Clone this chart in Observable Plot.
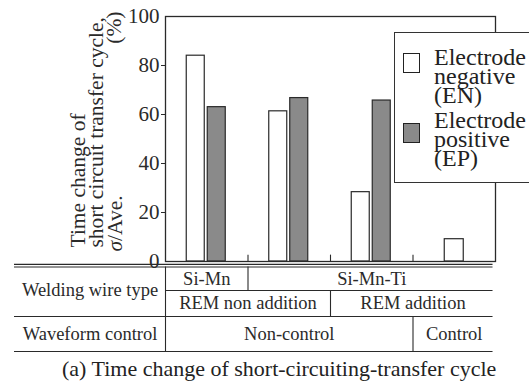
<!DOCTYPE html>
<html><head><meta charset="utf-8">
<script src="https://cdn.jsdelivr.net/npm/d3@7"></script>
<script src="https://cdn.jsdelivr.net/npm/@observablehq/plot@0.6"></script>
<style>
  body { margin: 0; background: #fff; }
  #wrap { position: relative; width: 529px; height: 383px; overflow: hidden; font-family: "Liberation Serif", "Times New Roman", serif; color: #222; }
  #wrap svg { display: block; }
  #wrap svg text { font-family: "Liberation Serif", "Times New Roman", serif; }
  #legend { position: absolute; left: 394px; top: 32px; width: 150px; height: 151px; border: 1.3px solid #333; background: #fff; box-sizing: border-box; }
  .sw { position: absolute; left: 8px; width: 17px; height: 20px; border: 1.3px solid #222; box-sizing: border-box; }
  .lt { position: absolute; left: 39px; font-size: 24px; line-height: 19px; white-space: pre; }
  #caption { position: absolute; left: 62px; top: 358px; font-size: 22px; line-height: 22px; white-space: nowrap; }
</style>
</head><body>
<div id="wrap"></div>
<script>
// ---- data ----
const groups = ["Si-Mn", "Si-Mn-Ti / REM non addition", "Si-Mn-Ti / REM addition", "Control"];
const enValues = [84, 61.3, 28.3, 9.1];     // Electrode negative (EN)
const epValues = [63, 66.7, 65.7, null];    // Electrode positive (EP)
const yTicks = [0, 20, 40, 60, 80, 100];
const seriesLabels = ["Electrode\nnegative\n(EN)", "Electrode\npositive\n(EP)"];
const seriesFills = ["#ffffff", "#8a8a8a"];
const yTitleLines = ["Time change of", "short circuit transfer cycle,", "σ/Ave."];
const yTitleUnit = "(%)";
const rowHeaders = ["Welding wire type", "Waveform control"];
const wireLabels = ["Si-Mn", "Si-Mn-Ti"];
const wireSpans = [[0, 1], [1, 4]];
const remLabels = ["REM non addition", "REM addition"];
const remSpans = [[0, 2], [2, 4]];
const waveLabels = ["Non-control", "Control"];
const waveSpans = [[0, 3], [3, 4]];
const captionText = "(a) Time change of short-circuiting-transfer cycle";

// ---- layout ----
const W = 529, ML = 165, MR = 34;
const bw = (W - ML - MR) / groups.length;
const ink = "#2a2a2a";
const serif = "Liberation Serif, Times New Roman, serif";
const data = groups.map((g, i) => ({i, g, en: enValues[i], ep: epValues[i]}));
const paired = data.filter(d => d.ep != null);
const single = data.filter(d => d.ep == null);

const main = Plot.plot({
  width: W, height: 262,
  marginTop: 16, marginBottom: 1, marginLeft: ML, marginRight: MR,
  style: {fontFamily: serif, color: ink, background: "transparent", overflow: "visible"},
  x: {type: "linear", domain: [0, groups.length], axis: null},
  y: {domain: [0, 100], axis: null},
  marks: [
    Plot.rectY(paired, {x1: "i", x2: d => d.i + 1, y1: 0, y2: "en", fill: seriesFills[0], stroke: ink, strokeWidth: 1.2, insetLeft: bw / 2 - 20, insetRight: bw / 2 + 2}),
    Plot.rectY(paired, {x1: "i", x2: d => d.i + 1, y1: 0, y2: "ep", fill: seriesFills[1], stroke: ink, strokeWidth: 1.2, insetLeft: bw / 2 + 1, insetRight: bw / 2 - 19}),
    Plot.rectY(single, {x1: "i", x2: d => d.i + 1, y1: 0, y2: "en", fill: seriesFills[0], stroke: ink, strokeWidth: 1.2, insetLeft: bw / 2 - 9.5, insetRight: bw / 2 - 9.5}),
    Plot.ruleX(d3.range(1, groups.length), {y1: 0, y2: 2.6, stroke: ink, strokeWidth: 1.1}),
    Plot.frame({stroke: ink, strokeWidth: 1.3}),
    Plot.axisY({ticks: yTicks.filter(t => t > 0 && t < 100), tickSize: 4, tickPadding: 2, fontSize: 21, stroke: ink, fill: ink, label: null}),
    Plot.axisY({ticks: yTicks.filter(t => t === 0 || t === 100), tickSize: 0, tickPadding: 6, fontSize: 21, fill: ink, label: null}),
    Plot.text([yTitleLines[0]], {frameAnchor: "bottom-left", rotate: -90, textAnchor: "start", lineAnchor: "bottom", dx: 84 - ML, dy: -14, fontSize: 21.5, fill: ink}),
    Plot.text([yTitleLines[1]], {frameAnchor: "bottom-left", rotate: -90, textAnchor: "start", lineAnchor: "bottom", dx: 102 - ML, dy: -14, fontSize: 21.5, fill: ink}),
    Plot.text([yTitleLines[2]], {frameAnchor: "bottom-left", rotate: -90, textAnchor: "start", lineAnchor: "bottom", dx: 121 - ML, dy: -10, fontSize: 21.5, fill: ink}),
    Plot.text([yTitleUnit], {frameAnchor: "top-left", rotate: -90, textAnchor: "end", lineAnchor: "bottom", dx: 120 - ML, dy: -5, fontSize: 21.5, fill: ink})
  ]
});

// italic sigma in the axis title
main.querySelectorAll("text").forEach(t => {
  if (t.textContent === yTitleLines[2]) {
    const ns = "http://www.w3.org/2000/svg";
    const s = document.createElementNS(ns, "tspan");
    s.setAttribute("font-style", "italic");
    s.textContent = yTitleLines[2].slice(0, 1);
    const r = document.createElementNS(ns, "tspan");
    r.textContent = yTitleLines[2].slice(1);
    t.textContent = "";
    t.appendChild(s);
    t.appendChild(r);
  }
});

// ---- table below the chart ----
const X0 = -(ML - 14) / bw;   // left edge of the header column, in group units
const cells = [
  ...wireLabels.map((t, k) => ({t, row: 0, a: wireSpans[k][0], b: wireSpans[k][1]})),
  ...remLabels.map((t, k) => ({t, row: 1, a: remSpans[k][0], b: remSpans[k][1]})),
  ...waveLabels.map((t, k) => ({t, row: 2, a: waveSpans[k][0], b: waveSpans[k][1]}))
];
const headers = [{t: rowHeaders[0], y: 1}, {t: rowHeaders[1], y: 2.5}];
const splits = [
  {x: wireSpans[1][0], y1: 0, y2: 1},
  {x: remSpans[1][0], y1: 1, y2: 2},
  {x: waveSpans[1][0], y1: 2, y2: 3}
];
const xEnd = groups.length - 0.03;
const table = Plot.plot({
  width: W, height: 93,
  marginTop: 0, marginBottom: 0, marginLeft: 14, marginRight: MR,
  style: {fontFamily: serif, color: ink, background: "transparent", overflow: "visible"},
  x: {type: "linear", domain: [X0, groups.length], axis: null},
  y: {type: "linear", domain: [0, 1, 2, 3], range: [4.5, 28, 54, 89], axis: null},
  marks: [
    Plot.ruleY([0], {x1: X0, x2: xEnd, dy: -2.6, stroke: ink, strokeWidth: 1.1}),
    Plot.ruleY([0], {x1: X0, x2: xEnd, stroke: ink, strokeWidth: 1.1}),
    Plot.ruleY([1], {x1: 0, x2: xEnd, stroke: ink, strokeWidth: 1.1}),
    Plot.ruleY([2, 3], {x1: X0, x2: xEnd, stroke: ink, strokeWidth: 1.1}),
    Plot.ruleX([0], {y1: 0, y2: 3, stroke: ink, strokeWidth: 1.1}),
    Plot.ruleX(splits, {x: "x", y1: "y1", y2: "y2", stroke: ink, strokeWidth: 1.1}),
    Plot.text(cells, {x: d => (d.a + d.b) / 2, y: d => d.row + 0.5, text: "t", fontSize: 18.5, fill: ink}),
    Plot.text(headers, {x: X0 / 2, y: "y", text: "t", fontSize: 18.5, fill: ink})
  ]
});

const wrap = document.getElementById("wrap");
wrap.appendChild(main);
wrap.appendChild(table);

// legend
const legend = document.createElement("div");
legend.id = "legend";
const swTops = [20, 90];
const txTops = [15.4, 78.4];
seriesLabels.forEach((lab, k) => {
  const sw = document.createElement("div");
  sw.className = "sw";
  sw.style.top = swTops[k] + "px";
  sw.style.background = seriesFills[k];
  legend.appendChild(sw);
  const tx = document.createElement("div");
  tx.className = "lt";
  tx.style.top = txTops[k] + "px";
  tx.textContent = lab;
  legend.appendChild(tx);
});
wrap.appendChild(legend);

const cap = document.createElement("div");
cap.id = "caption";
cap.textContent = captionText;
wrap.appendChild(cap);
</script>
</body></html>
